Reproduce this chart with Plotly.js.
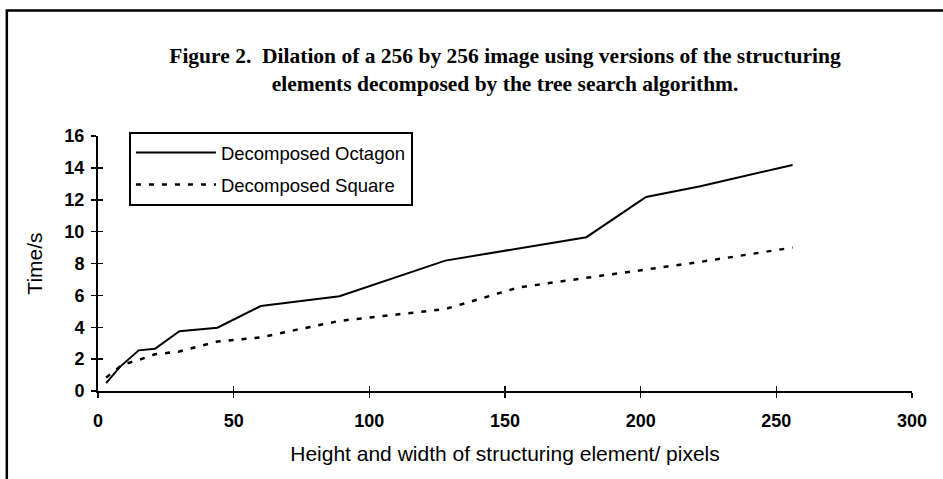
<!DOCTYPE html>
<html>
<head>
<meta charset="utf-8">
<script src="https://cdn.plot.ly/plotly-3.0.1.min.js"></script>
<style>html,body{margin:0;padding:0;background:#fff;}#chart{width:943px;height:479px;}</style>
</head>
<body>
<div id="chart"></div>
<script>
// Data
const octagonSize = [3, 8, 15, 21, 30, 44, 60, 89, 128, 180, 202, 222, 256];
const octagonTime = [0.5, 1.5, 2.55, 2.65, 3.75, 3.97, 5.33, 5.95, 8.18, 9.65, 12.17, 12.85, 14.18];
const squareSize = [3, 9, 15, 21, 30, 44, 60, 89, 128, 155, 180, 202, 222, 256];
const squareTime = [0.85, 1.65, 1.95, 2.3, 2.48, 3.1, 3.37, 4.4, 5.14, 6.5, 7.1, 7.6, 8.1, 9.0];
const seriesNames = ['Decomposed Octagon', 'Decomposed Square'];
const xTickVals = [0, 50, 100, 150, 200, 250, 300];
const yTickVals = [0, 2, 4, 6, 8, 10, 12, 14, 16];
const titleText = 'Figure 2.\u00a0 Dilation of a 256 by 256 image using versions of the structuring<br>elements decomposed by the tree search algorithm.';
const xTitle = 'Height and width of structuring element/ pixels';
const yTitle = 'Time/s';

const traces = [
  {x: octagonSize, y: octagonTime, name: seriesNames[0], type: 'scatter', mode: 'lines',
   line: {color: '#000', width: 2}, legendgroup: 'a'},
  {x: squareSize, y: squareTime, name: seriesNames[1], type: 'scatter', mode: 'lines',
   line: {color: '#000', width: 2.5, dash: '5px,8px'}, legendgroup: 'b'}
];

const sans = 'Arial, "Liberation Sans", sans-serif';
const layout = {
  width: 943, height: 479,
  margin: {l: 98, r: 31, t: 136, b: 88},
  paper_bgcolor: '#fff', plot_bgcolor: '#fff',
  showlegend: true,
  title: {text: titleText, x: 0.5, xref: 'paper', y: 0.868, yanchor: 'top',
          font: {family: '"Liberation Serif", "Times New Roman", serif', size: 21.5, color: '#000', weight: 'bold'}},
  xaxis: {range: [0, 300], tickvals: xTickVals, showline: true, linewidth: 2, linecolor: '#000',
          ticks: 'outside', ticklen: 5, tickwidth: 1.5, tickcolor: '#000', showgrid: false, zeroline: false,
          ticklabelstandoff: 7,
          tickfont: {family: sans, size: 18, color: '#000', weight: 'bold'},
          title: {text: xTitle, font: {family: sans, size: 21, color: '#000'}, standoff: 17},
          automargin: false, fixedrange: true},
  xaxis2: {range: [0, 300], tickvals: xTickVals, overlaying: 'x', anchor: 'y', side: 'bottom',
           showline: false, ticks: 'inside', ticklen: 5, tickwidth: 1.5, tickcolor: '#000',
           showticklabels: false, showgrid: false, zeroline: false},
  yaxis: {range: [0, 16], tickvals: yTickVals, showline: true, linewidth: 2, linecolor: '#000',
          ticks: 'outside', ticklen: 5, tickwidth: 1.5, tickcolor: '#000', showgrid: false, zeroline: false,
          ticklabelstandoff: 3,
          tickfont: {family: sans, size: 18, color: '#000', weight: 'bold'},
          title: {text: yTitle, font: {family: sans, size: 21, color: '#000'}, standoff: 16},
          automargin: false, fixedrange: true},
  yaxis2: {range: [0, 16], tickvals: yTickVals, overlaying: 'y', anchor: 'x', side: 'left',
           showline: false, ticks: 'inside', ticklen: 5, tickwidth: 1.5, tickcolor: '#000',
           showticklabels: false, showgrid: false, zeroline: false},
  legend: {x: 0.038, y: 1.016, xanchor: 'left', yanchor: 'top', bgcolor: '#fff',
           bordercolor: '#000', borderwidth: 2, itemwidth: 80, tracegroupgap: 5,
           font: {family: sans, size: 18.5, color: '#000'}},
  shapes: [
    {type: 'rect', xref: 'paper', yref: 'paper', x0: -0.112, x1: 1.2, y0: -0.5, y1: 1.492,
     line: {color: '#000', width: 2.5}, fillcolor: 'rgba(0,0,0,0)', layer: 'below'}
  ]
};

// dummy trace to activate the overlay axes for cross ticks
traces.push({x: [null], y: [null], xaxis: 'x2', yaxis: 'y2', showlegend: false, hoverinfo: 'skip', type: 'scatter', mode: 'lines'});

Plotly.newPlot('chart', traces, layout, {displayModeBar: false, staticPlot: true});
</script>
</body>
</html>
